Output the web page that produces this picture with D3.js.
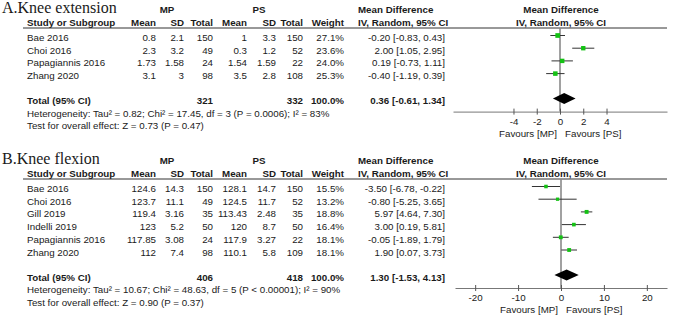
<!DOCTYPE html>
<html>
<head>
<meta charset="utf-8">
<script src="https://cdn.jsdelivr.net/npm/d3@7"></script>
<style>
  body { margin: 0; background: #fff; }
  svg text { font-family: "Liberation Sans", Arial, sans-serif; font-size: 9.75px; fill: #1a1a1a; }
</style>
</head>
<body>
<svg id="chart" width="678" height="317"></svg>
<script>
// ---- panel A: knee extension
const studiesA = ["Bae 2016", "Choi 2016", "Papagiannis 2016", "Zhang 2020"];
const mpMeanA = [0.8, 2.3, 1.73, 3.1];
const mpSdA = [2.1, 3.2, 1.58, 3];
const mpTotalA = [150, 49, 24, 98];
const psMeanA = [1, 0.3, 1.54, 3.5];
const psSdA = [3.3, 1.2, 1.59, 2.8];
const psTotalA = [150, 52, 22, 108];
const weightA = [27.1, 23.6, 24.0, 25.3];
const mdA = [-0.20, 2.00, 0.19, -0.40];
const loA = [-0.83, 1.05, -0.73, -1.19];
const hiA = [0.43, 2.95, 1.11, 0.39];
const totalA = [321, 332, 0.36, -0.61, 1.34]; // mp n, ps n, md, lo, hi
const ticksA = [-4, -2, 0, 2, 4];
const hetA = "Heterogeneity: Tau\u00b2 = 0.82; Chi\u00b2 = 17.45, df = 3 (P = 0.0006); I\u00b2 = 83%";
const testA = "Test for overall effect: Z = 0.73 (P = 0.47)";

// ---- panel B: knee flexion
const studiesB = ["Bae 2016", "Choi 2016", "Gill 2019", "Indelli 2019", "Papagiannis 2016", "Zhang 2020"];
const mpMeanB = [124.6, 123.7, 119.4, 123, 117.85, 112];
const mpSdB = [14.3, 11.1, 3.16, 5.2, 3.08, 7.4];
const mpTotalB = [150, 49, 35, 50, 24, 98];
const psMeanB = [128.1, 124.5, 113.43, 120, 117.9, 110.1];
const psSdB = [14.7, 11.7, 2.48, 8.7, 3.27, 5.8];
const psTotalB = [150, 52, 35, 50, 22, 109];
const weightB = [15.5, 13.2, 18.8, 16.4, 18.1, 18.1];
const mdB = [-3.50, -0.80, 5.97, 3.00, -0.05, 1.90];
const loB = [-6.78, -5.25, 4.64, 0.19, -1.89, 0.07];
const hiB = [-0.22, 3.65, 7.30, 5.81, 1.79, 3.73];
const totalB = [406, 418, 1.30, -1.53, 4.13];
const ticksB = [-20, -10, 0, 10, 20];
const hetB = "Heterogeneity: Tau\u00b2 = 10.67; Chi\u00b2 = 48.63, df = 5 (P < 0.00001); I\u00b2 = 90%";
const testB = "Test for overall effect: Z = 0.90 (P = 0.37)";

const svg = d3.select("#chart");
const loc = d3.formatLocale({ decimal: ".", thousands: ",", grouping: [3], currency: ["", ""], minus: "-" });
const f2 = loc.format(".2f");
const ci = (m, l, h) => `${f2(m)} [${f2(l)}, ${f2(h)}]`;

// column right edges
const col = { study: 27, mpMean: 156, mpSd: 184, mpTotal: 213, psMean: 247, psSd: 276, psTotal: 303, weight: 344, md: 445 };

function drawPanel(p) {
  const g = svg.append("g").attr("transform", `translate(0,${p.top})`);
  const n = p.studies.length;
  const rowY = i => 37.5 + i * 12.7;
  const totY = rowY(n - 1) + 25;
  const dy = 3.5;   // centre -> baseline
  const axisY = totY - 2 + 13;

  const txt = (x, y, s, anchor, bold) => g.append("text")
    .attr("x", x).attr("y", y + dy).attr("text-anchor", anchor || "start")
    .attr("font-weight", bold ? "bold" : null).text(s);

  g.append("text").attr("x", 2).attr("y", 13)
    .style("font-family", "'Liberation Serif', 'Times New Roman', serif")
    .style("font-size", "16px").text(p.title);

  txt(167, 9, "MP", "middle", true);
  txt(259, 9, "PS", "middle", true);
  txt(358, 9, "Mean Difference", "start", true);
  txt(561, 9, "Mean Difference", "middle", true);

  const hy = 22.6;
  txt(col.study, hy, "Study or Subgroup", "start", true);
  txt(col.mpMean, hy, "Mean", "end", true);
  txt(col.mpSd, hy, "SD", "end", true);
  txt(col.mpTotal, hy, "Total", "end", true);
  txt(col.psMean, hy, "Mean", "end", true);
  txt(col.psSd, hy, "SD", "end", true);
  txt(col.psTotal, hy, "Total", "end", true);
  txt(col.weight, hy, "Weight", "end", true);
  txt(358, hy, "IV, Random, 95% CI", "start", true);
  txt(561, hy, "IV, Random, 95% CI", "middle", true);

  g.append("line").attr("x1", 23).attr("x2", 667).attr("y1", 28).attr("y2", 28)
    .attr("stroke", "#333").attr("stroke-width", 1);

  p.studies.forEach((s, i) => {
    const y = rowY(i);
    txt(col.study, y, s);
    txt(col.mpMean, y, p.mpMean[i], "end");
    txt(col.mpSd, y, p.mpSd[i], "end");
    txt(col.mpTotal, y, p.mpTotal[i], "end");
    txt(col.psMean, y, p.psMean[i], "end");
    txt(col.psSd, y, p.psSd[i], "end");
    txt(col.psTotal, y, p.psTotal[i], "end");
    txt(col.weight, y, p.weight[i].toFixed(1) + "%", "end");
    txt(col.md, y, ci(p.md[i], p.lo[i], p.hi[i]), "end");
  });

  txt(col.study, totY, "Total (95% CI)", "start", true);
  txt(col.mpTotal, totY, p.total[0], "end", true);
  txt(col.psTotal, totY, p.total[1], "end", true);
  txt(col.weight, totY, "100.0%", "end", true);
  txt(col.md, totY, ci(p.total[2], p.total[3], p.total[4]), "end", true);
  txt(col.study, totY + 12.5, p.het);
  txt(col.study, totY + 25, p.test);

  // forest plot
  const x = d3.scaleLinear().domain(p.domain).range(p.range);

  g.append("line").attr("x1", x(0)).attr("x2", x(0)).attr("y1", 28).attr("y2", axisY)
    .attr("stroke", "#8a8a8a").attr("stroke-width", 1.6);

  const marks = g.append("g");
  p.studies.forEach((s, i) => {
    const y = rowY(i) - 2;
    marks.append("line").attr("x1", x(p.lo[i])).attr("x2", x(p.hi[i]))
      .attr("y1", y).attr("y2", y).attr("stroke", "#333").attr("stroke-width", 1);
    const sz = 0.9 * Math.sqrt(p.weight[i]);
    marks.append("rect").attr("x", x(p.md[i]) - sz / 2).attr("y", y - sz / 2)
      .attr("width", sz).attr("height", sz).attr("fill", "#14c214");
  });

  const dY = totY - 2;
  marks.append("path")
    .attr("d", `M${x(p.total[3])},${dY}L${x(p.total[2])},${dY - 5.5}L${x(p.total[4])},${dY}L${x(p.total[2])},${dY + 5.5}Z`)
    .attr("fill", "#000");

  const ax = g.append("g").attr("transform", `translate(0,${axisY})`)
    .call(d3.axisBottom(x).tickValues(p.ticks).tickFormat(d => String(d))
      .tickSizeOuter(0).tickSizeInner(3).tickPadding(3));
  ax.select(".domain").attr("stroke", "#777");
  ax.selectAll(".tick line").attr("y1", -3).attr("y2", 3).attr("stroke", "#555");
  ax.selectAll(".tick text").style("font-family", "'Liberation Sans', Arial, sans-serif")
    .style("font-size", "9.75px").attr("fill", "#1a1a1a");

  g.append("text").attr("x", x(0) - 3).attr("y", axisY + 21.5 + dy).attr("text-anchor", "end").text("Favours [MP]");
  g.append("text").attr("x", x(0) + 5).attr("y", axisY + 21.5 + dy).text("Favours [PS]");
}

drawPanel({
  top: 0, title: "A.Knee extension", studies: studiesA,
  mpMean: mpMeanA, mpSd: mpSdA, mpTotal: mpTotalA, psMean: psMeanA, psSd: psSdA, psTotal: psTotalA,
  weight: weightA, md: mdA, lo: loA, hi: hiA, total: totalA, het: hetA, test: testA,
  ticks: ticksA, domain: [-9.2, 9.2], range: [453, 667]
});
drawPanel({
  top: 151, title: "B.Knee flexion", studies: studiesB,
  mpMean: mpMeanB, mpSd: mpSdB, mpTotal: mpTotalB, psMean: psMeanB, psSd: psSdB, psTotal: psTotalB,
  weight: weightB, md: mdB, lo: loB, hi: hiB, total: totalB, het: hetB, test: testB,
  ticks: ticksB, domain: [-24.7, 24.7], range: [455, 667]
});
</script>
</body>
</html>
